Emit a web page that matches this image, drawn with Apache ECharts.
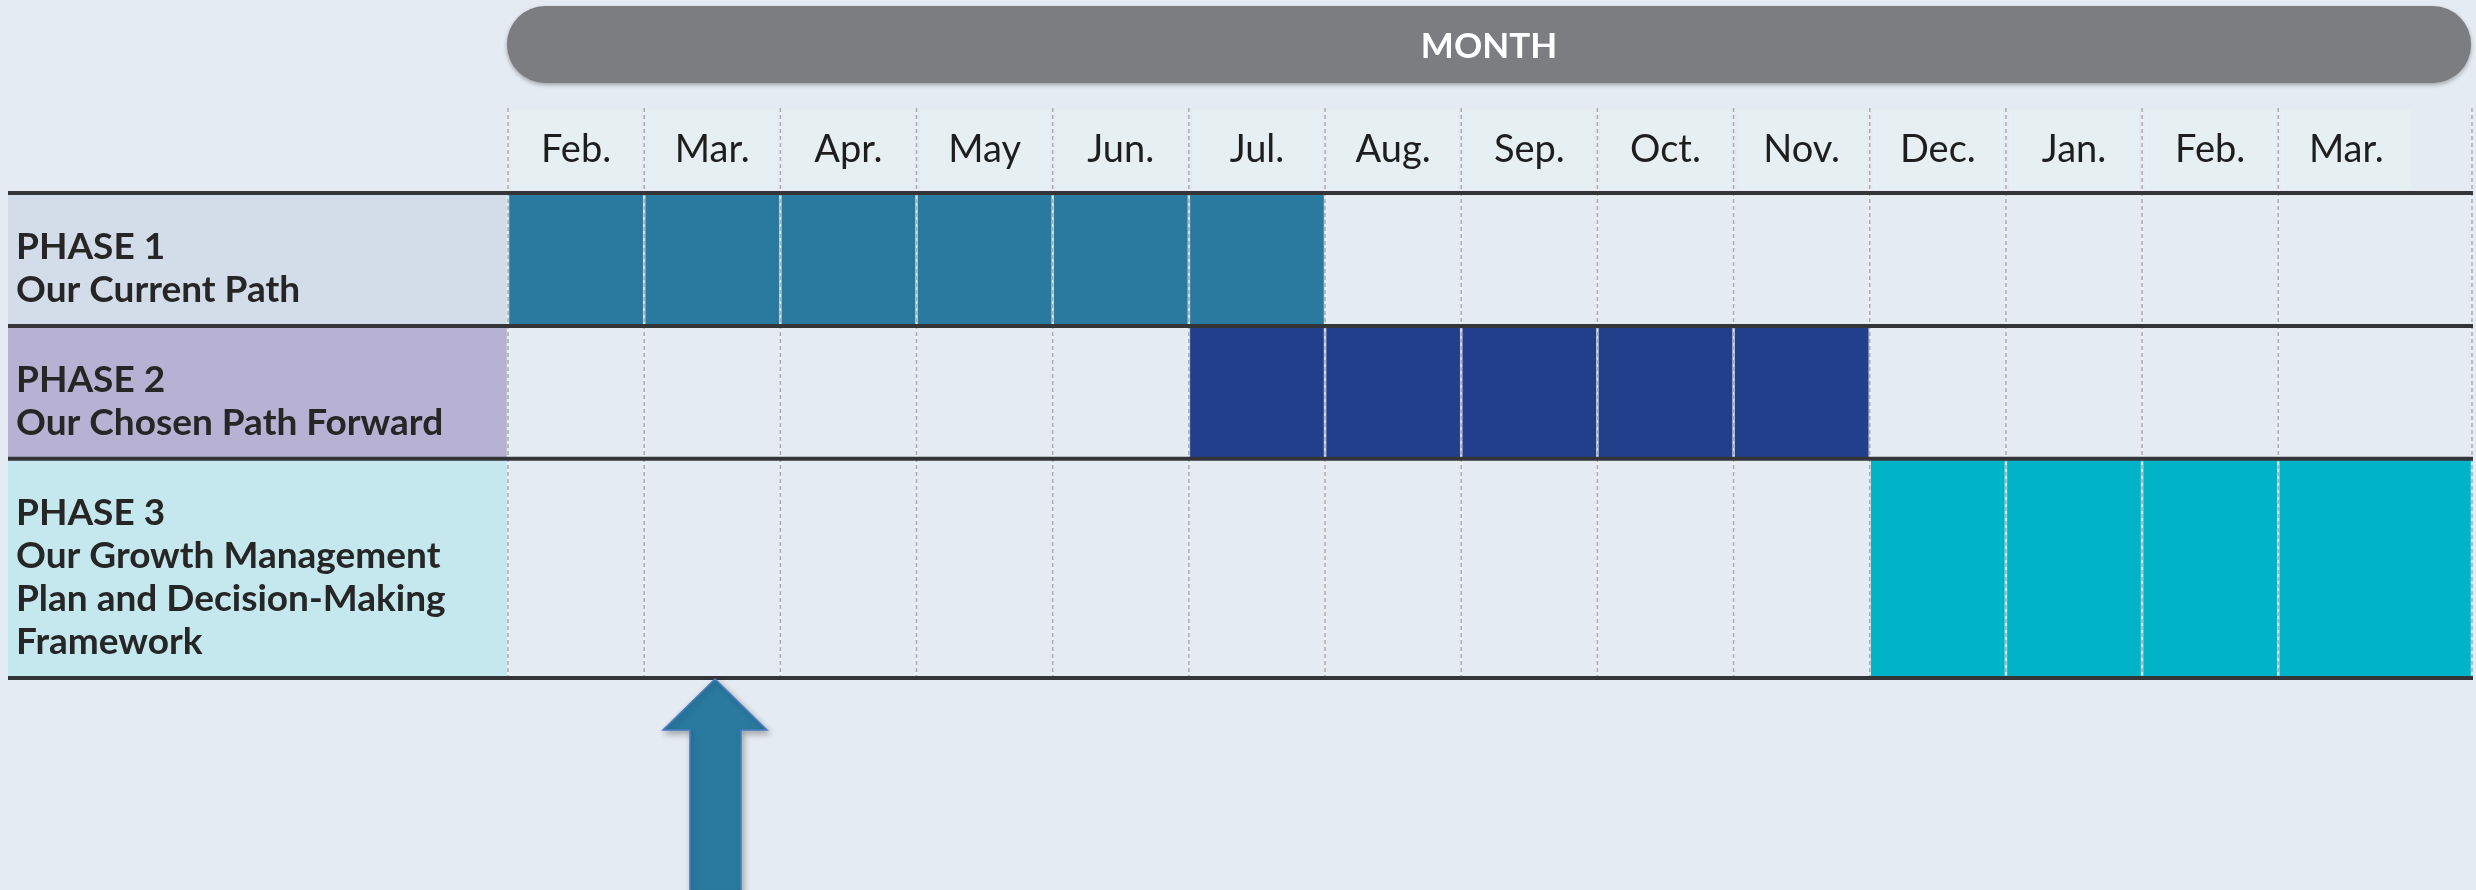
<!DOCTYPE html>
<html lang="en">
<head>
    <meta charset="UTF-8">
    <title>Project phases</title>
    <script src="https://cdn.jsdelivr.net/npm/echarts@6/dist/echarts.min.js"></script>
    <style>
        html, body { margin: 0; padding: 0; background: #e4ebf2; }
    </style>
</head>
<body>

<div id="main" style="width: 2476px; height: 890px;"></div>
<script>
    // months shown in the header, one column each
    var months = ['Feb.', 'Mar.', 'Apr.', 'May', 'Jun.', 'Jul.', 'Aug.', 'Sep.', 'Oct.', 'Nov.', 'Dec.', 'Jan.', 'Feb.', 'Mar.'];

    var phaseTitles = ['PHASE 1', 'PHASE 2', 'PHASE 3'];
    var phaseNames = [
        'Our Current Path',
        'Our Chosen Path Forward',
        'Our Growth Management\nPlan and Decision-Making\nFramework'
    ];
    // first month index and month index after the last one
    var phaseStart = [0, 5, 10];
    var phaseEnd = [6, 10, 14];

    // month the arrow points at (Mar.)
    var currentMonth = 1;

    // layout / styles
    var rowEdges = [0, 1, 2, 3.65];
    var phaseColors = ['#2a7aa0', '#223f8c', '#00b3c6'];
    var panelColors = ['#d3dde9', '#b7b2d3', '#c4e8ee'];
    var panelLeft = 8;
    var headerTop = 108;
    var fontName = 'Lato, "Noto Sans", sans-serif';

    var mychart = echarts.init(document.getElementById('main'));

    function gridRight(params) {
        return params.coordSys.x + params.coordSys.width;
    }

    var option = {
        backgroundColor: '#e4ebf2',
        animation: false,
        grid: { left: 508, top: 193, width: 1965, height: 485 },
        xAxis: { type: 'value', min: 0, max: 14.43, show: false },
        yAxis: { type: 'value', min: 0, max: rowEdges[rowEdges.length - 1], inverse: true, show: false },
        graphic: [
            {
                type: 'rect',
                shape: { x: 507, y: 6, width: 1964, height: 77, r: 38 },
                style: { fill: '#7c7d81', shadowBlur: 4, shadowOffsetY: 2, shadowColor: 'rgba(0,0,0,0.3)' },
                z: 10
            },
            {
                type: 'text',
                x: 1489, y: 47,
                style: { text: 'MONTH', fill: '#ffffff', font: 'bold 35px ' + fontName, align: 'center', verticalAlign: 'middle' },
                z: 11
            }
        ],
        series: [
            {
                // header cells with month names
                type: 'custom',
                clip: false,
                z: 1,
                data: months.map(function (m, i) { return [i]; }),
                renderItem: function (params, api) {
                    var i = api.value(0);
                    var a = api.coord([i, 0]);
                    var b = api.coord([i + 1, 0]);
                    return {
                        type: 'group',
                        children: [
                            {
                                type: 'rect',
                                shape: { x: a[0] + 3, y: headerTop + 2, width: b[0] - a[0] - 6, height: 80 },
                                style: { fill: 'rgba(230,241,241,0.8)' }
                            },
                            {
                                type: 'text',
                                x: (a[0] + b[0]) / 2, y: 150,
                                style: { text: months[i], fill: '#1e1e1e', font: '38px ' + fontName, align: 'center', verticalAlign: 'middle' }
                            }
                        ]
                    };
                }
            },
            {
                // phase label panels on the left
                type: 'custom',
                clip: false,
                z: 2,
                data: phaseTitles.map(function (t, i) { return [i]; }),
                renderItem: function (params, api) {
                    var i = api.value(0);
                    var top = api.coord([0, rowEdges[i]]);
                    var bot = api.coord([0, rowEdges[i + 1]]);
                    return {
                        type: 'group',
                        children: [
                            {
                                type: 'rect',
                                shape: { x: panelLeft, y: top[1], width: top[0] - panelLeft, height: bot[1] - top[1] },
                                style: { fill: panelColors[i] }
                            },
                            {
                                type: 'text',
                                x: panelLeft + 8, y: (top[1] + bot[1]) / 2 + 9,
                                style: {
                                    text: phaseTitles[i] + '\n' + phaseNames[i],
                                    fill: '#262626', font: 'bold 37px ' + fontName,
                                    lineHeight: 43, align: 'left', verticalAlign: 'middle'
                                }
                            }
                        ]
                    };
                }
            },
            {
                // phase bars
                type: 'custom',
                clip: false,
                z: 3,
                data: phaseStart.map(function (s, i) { return [s, phaseEnd[i], i]; }),
                renderItem: function (params, api) {
                    var i = api.value(2);
                    var p1 = api.coord([api.value(0), rowEdges[i]]);
                    var p2 = api.coord([api.value(1), rowEdges[i + 1]]);
                    var x2 = api.value(1) >= months.length ? gridRight(params) : p2[0];
                    return {
                        type: 'rect',
                        shape: { x: p1[0], y: p1[1], width: x2 - p1[0], height: p2[1] - p1[1] },
                        style: { fill: phaseColors[i] }
                    };
                }
            },
            {
                // vertical month separators
                type: 'custom',
                clip: false,
                z: 4,
                data: months.concat(['end']).map(function (m, i) { return [i]; }),
                renderItem: function (params, api) {
                    var i = api.value(0);
                    var x = i >= months.length ? gridRight(params) - 1 : api.coord([i, 0])[0];
                    var yb = api.coord([0, rowEdges[rowEdges.length - 1]])[1];
                    return {
                        type: 'group',
                        children: [
                            {
                                type: 'line',
                                shape: { x1: x, y1: headerTop, x2: x, y2: yb },
                                style: { stroke: 'rgba(238,242,245,0.85)', lineWidth: 2.5 }
                            },
                            {
                                type: 'line',
                                shape: { x1: x, y1: headerTop, x2: x, y2: yb },
                                style: { stroke: '#a9abad', lineWidth: 1.5, lineDash: [4, 3] }
                            }
                        ]
                    };
                }
            },
            {
                // thick horizontal row rules
                type: 'custom',
                clip: false,
                z: 5,
                data: rowEdges.map(function (r) { return [r]; }),
                renderItem: function (params, api) {
                    var y = api.coord([0, api.value(0)])[1];
                    return {
                        type: 'line',
                        shape: { x1: panelLeft, y1: y, x2: gridRight(params), y2: y },
                        style: { stroke: '#333538', lineWidth: 4 }
                    };
                }
            },
            {
                // arrow marking the current month
                type: 'custom',
                clip: false,
                z: 6,
                data: [[currentMonth]],
                renderItem: function (params, api) {
                    var tip = api.coord([api.value(0) + 0.52, rowEdges[rowEdges.length - 1]]);
                    var x = tip[0], y = tip[1] + 1;
                    return {
                        type: 'polygon',
                        shape: {
                            points: [
                                [x, y], [x + 52, y + 51], [x + 26, y + 51], [x + 26, 892],
                                [x - 25, 892], [x - 25, y + 51], [x - 52, y + 51]
                            ]
                        },
                        style: {
                            fill: '#2a7aa0', stroke: '#4a7cc4', lineWidth: 1.5,
                            shadowBlur: 6, shadowOffsetX: 2, shadowOffsetY: 3, shadowColor: 'rgba(0,0,0,0.3)'
                        }
                    };
                }
            }
        ]
    };

    mychart.setOption(option);
</script>

</body>
</html>
